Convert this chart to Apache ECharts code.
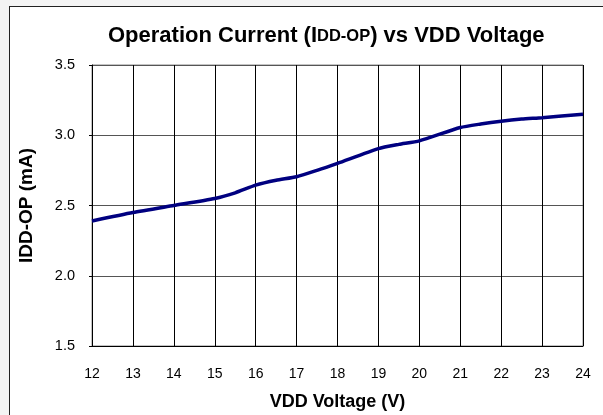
<!DOCTYPE html>
<html>
<head>
<meta charset="utf-8">
<script src="https://cdn.jsdelivr.net/npm/echarts@6/dist/echarts.min.js"></script>
<style>
  html, body { margin: 0; padding: 0; }
  #wrap { position: relative; width: 603px; height: 415px; background: #f4f4f4; overflow: hidden; }
  #frame { position: absolute; left: 9px; top: 6px; width: 620px; height: 430px; background: #fff; border-left: 1px solid #222; border-top: 1px solid #222; }
  #chart { position: absolute; left: 0; top: 0; width: 603px; height: 415px; }
</style>
</head>
<body>
<div id="wrap">
  <div id="frame"></div>
  <div id="chart"></div>
</div>
<script>
var voltages = [12, 13, 14, 15, 15.5, 16, 16.5, 17, 17.5, 18, 19, 19.5, 20, 21, 21.5, 22, 22.5, 23, 24];
var currents = [2.39, 2.45, 2.50, 2.55, 2.59, 2.645, 2.68, 2.705, 2.75, 2.80, 2.905, 2.935, 2.96, 3.055, 3.08, 3.10, 3.115, 3.125, 3.15];
var yTicks = [1.5, 2.0, 2.5, 3.0, 3.5];

var myChart = echarts.init(document.getElementById("chart"));

var option = {
  animation: false,
  title: {
    text: "{a|Operation Current (I}{b|DD-OP}{a|) vs VDD Voltage}",
    left: 103,
    top: 20,
    textStyle: {
      rich: {
        a: { fontFamily: "Liberation Sans", fontWeight: "bold", fontSize: 22, color: "#000" },
        b: { fontFamily: "Liberation Sans", fontWeight: "bold", fontSize: 16.5, color: "#000" },
      },
    },
  },
  grid: {
    left: 92,
    right: 20,
    top: 65,
    bottom: 69,
    outerBoundsMode: "none",
    show: true,
    borderColor: "#888",
    borderWidth: 1,
  },
  xAxis: {
    type: "value",
    min: 12,
    max: 24,
    interval: 1,
    name: "VDD Voltage (V)",
    nameLocation: "middle",
    nameGap: 47,
    nameTextStyle: { fontFamily: "Liberation Sans", fontWeight: "bold", fontSize: 18, color: "#000" },
    axisLine: { lineStyle: { color: "#000", width: 1 } },
    axisTick: { show: false },
    axisLabel: { fontFamily: "Liberation Sans", fontSize: 14, color: "#000", margin: 21 },
    splitLine: { show: true, lineStyle: { color: "#000", width: 1 } },
  },
  yAxis: {
    type: "value",
    min: 1.5,
    max: 3.5,
    interval: 0.5,
    name: "IDD-OP (mA)",
    nameLocation: "middle",
    nameGap: 56,
    nameTextStyle: { fontFamily: "Liberation Sans", fontWeight: "bold", fontSize: 19, color: "#000" },
    axisLine: { show: true, lineStyle: { color: "#000", width: 1 } },
    axisTick: { show: true, length: 3, lineStyle: { color: "#000" } },
    axisLabel: {
      fontFamily: "Liberation Sans",
      fontSize: 14.5,
      color: "#000",
      margin: 17,
      formatter: function (v) {
        return yTicks.indexOf(v) >= 0 ? v.toFixed(1) : "";
      },
    },
    splitLine: { show: true, lineStyle: { color: "#555", width: 1 } },
  },
  series: [
    {
      type: "line",
      data: voltages.map(function (v, i) { return [v, currents[i]]; }),
      symbol: "none",
      smooth: 0.2,
      lineStyle: { color: "#000080", width: 3.5 },
    },
  ],
};

myChart.setOption(option);
</script>
</body>
</html>
